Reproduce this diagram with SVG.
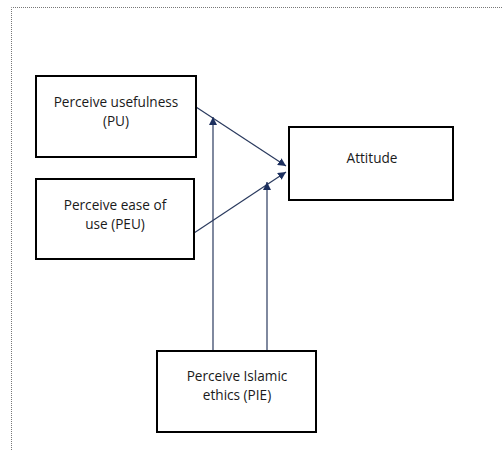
<svg xmlns="http://www.w3.org/2000/svg" width="502" height="451" viewBox="0 0 502 451">
<defs>
<style>
.box{fill:#fff;stroke:#000;stroke-width:2}
.t{font-family:"Open Sans","Liberation Sans",sans-serif;font-size:13.6px;fill:#1a1a1a;text-anchor:middle}
.c{stroke:#2a3a5e;stroke-width:1.2;fill:none}
</style>
<marker id="ah" viewBox="0 0 10 10" refX="10" refY="5" markerWidth="8" markerHeight="8" markerUnits="userSpaceOnUse" orient="auto">
<path d="M0,0 L10,5 L0,10 Z" fill="#1c2f5e"/>
</marker>
</defs>
<rect width="502" height="451" fill="#fff"/>
<path d="M11.5,460 V7.5 H510" fill="none" stroke="#777" stroke-width="1" stroke-dasharray="1,1"/>
<g id="connectors">
<line class="c" x1="196" y1="107" x2="286" y2="166" marker-end="url(#ah)"/>
<line class="c" x1="194" y1="233" x2="286" y2="172" marker-end="url(#ah)"/>
<line class="c" x1="213" y1="351" x2="213" y2="117" marker-end="url(#ah)"/>
<line class="c" x1="267" y1="351" x2="267" y2="182" marker-end="url(#ah)"/>
</g>
<g id="pu">
<rect class="box" x="36" y="76" width="160" height="81"/>
<text class="t" x="116" y="107">Perceive usefulness</text>
<text class="t" x="116" y="126">(PU)</text>
</g>
<g id="peu">
<rect class="box" x="36" y="179" width="158" height="80"/>
<text class="t" x="115" y="210">Perceive ease of</text>
<text class="t" x="115" y="229">use (PEU)</text>
</g>
<g id="attitude">
<rect class="box" x="289" y="127" width="164" height="73"/>
<text class="t" x="372" y="163">Attitude</text>
</g>
<g id="pie">
<rect class="box" x="157" y="351" width="159" height="81"/>
<text class="t" x="237" y="381">Perceive Islamic</text>
<text class="t" x="237" y="400">ethics (PIE)</text>
</g>
</svg>
